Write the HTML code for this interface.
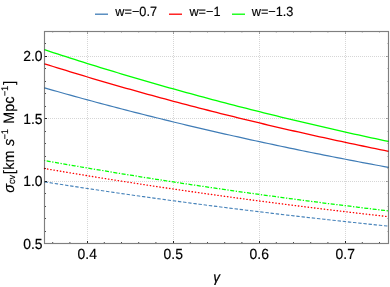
<!DOCTYPE html>
<html><head><meta charset="utf-8"><title>plot</title>
<style>html,body{margin:0;padding:0;background:#fff;}svg{display:block;will-change:transform;opacity:0.999;}text{font-family:"Liberation Sans",sans-serif;fill:#000;text-rendering:geometricPrecision;}</style></head><body>
<svg width="390" height="287" viewBox="0 0 390 287">
<rect width="390" height="287" fill="#fff"/>
<g stroke="#000" stroke-opacity="0.16" stroke-width="1" stroke-dasharray="1 1" fill="none" shape-rendering="crispEdges"><line x1="87.5" y1="31" x2="87.5" y2="243"/><line x1="173.5" y1="31" x2="173.5" y2="243"/><line x1="259.5" y1="31" x2="259.5" y2="243"/><line x1="345.5" y1="31" x2="345.5" y2="243"/><line x1="44" y1="181.5" x2="388" y2="181.5"/><line x1="44" y1="118.5" x2="388" y2="118.5"/><line x1="44" y1="56.5" x2="388" y2="56.5"/></g>
<clipPath id="c"><rect x="43.50" y="31.50" width="346.00" height="212.00"/></clipPath>
<g fill="none" stroke-width="1.3" clip-path="url(#c)">
<path d="M44.50 87.87 L48.80 89.10 L53.10 90.32 L57.40 91.54 L61.70 92.75 L66.00 93.96 L70.30 95.16 L74.60 96.35 L78.90 97.53 L83.20 98.71 L87.50 99.88 L91.80 101.05 L96.10 102.20 L100.40 103.35 L104.70 104.50 L109.00 105.64 L113.30 106.77 L117.60 107.89 L121.90 109.01 L126.20 110.13 L130.50 111.23 L134.80 112.33 L139.10 113.43 L143.40 114.51 L147.70 115.60 L152.00 116.67 L156.30 117.74 L160.60 118.80 L164.90 119.86 L169.20 120.91 L173.50 121.96 L177.80 123.00 L182.10 124.03 L186.40 125.06 L190.70 126.08 L195.00 127.10 L199.30 128.11 L203.60 129.11 L207.90 130.11 L212.20 131.11 L216.50 132.09 L220.80 133.08 L225.10 134.05 L229.40 135.02 L233.70 135.99 L238.00 136.95 L242.30 137.90 L246.60 138.85 L250.90 139.80 L255.20 140.74 L259.50 141.67 L263.80 142.60 L268.10 143.52 L272.40 144.44 L276.70 145.35 L281.00 146.26 L285.30 147.16 L289.60 148.06 L293.90 148.95 L298.20 149.84 L302.50 150.72 L306.80 151.60 L311.10 152.47 L315.40 153.33 L319.70 154.20 L324.00 155.05 L328.30 155.91 L332.60 156.75 L336.90 157.60 L341.20 158.44 L345.50 159.27 L349.80 160.10 L354.10 160.92 L358.40 161.74 L362.70 162.56 L367.00 163.37 L371.30 164.17 L375.60 164.97 L379.90 165.77 L384.20 166.56 L388.50 167.35" stroke="#3f7cb6" stroke-width="1.18"/>
<path d="M44.50 63.80 L48.80 65.15 L53.10 66.50 L57.40 67.84 L61.70 69.17 L66.00 70.49 L70.30 71.81 L74.60 73.12 L78.90 74.42 L83.20 75.71 L87.50 77.00 L91.80 78.28 L96.10 79.55 L100.40 80.82 L104.70 82.07 L109.00 83.33 L113.30 84.57 L117.60 85.81 L121.90 87.04 L126.20 88.26 L130.50 89.48 L134.80 90.69 L139.10 91.89 L143.40 93.09 L147.70 94.28 L152.00 95.46 L156.30 96.64 L160.60 97.81 L164.90 98.97 L169.20 100.13 L173.50 101.28 L177.80 102.42 L182.10 103.56 L186.40 104.69 L190.70 105.82 L195.00 106.93 L199.30 108.05 L203.60 109.15 L207.90 110.25 L212.20 111.35 L216.50 112.43 L220.80 113.52 L225.10 114.59 L229.40 115.66 L233.70 116.72 L238.00 117.78 L242.30 118.83 L246.60 119.88 L250.90 120.92 L255.20 121.95 L259.50 122.98 L263.80 124.00 L268.10 125.02 L272.40 126.03 L276.70 127.04 L281.00 128.04 L285.30 129.03 L289.60 130.02 L293.90 131.00 L298.20 131.98 L302.50 132.95 L306.80 133.92 L311.10 134.88 L315.40 135.84 L319.70 136.79 L324.00 137.73 L328.30 138.67 L332.60 139.61 L336.90 140.54 L341.20 141.46 L345.50 142.38 L349.80 143.30 L354.10 144.20 L358.40 145.11 L362.70 146.01 L367.00 146.90 L371.30 147.79 L375.60 148.67 L379.90 149.55 L384.20 150.43 L388.50 151.30" stroke="#ff0000"/>
<path d="M44.50 49.71 L48.80 51.12 L53.10 52.53 L57.40 53.93 L61.70 55.33 L66.00 56.71 L70.30 58.09 L74.60 59.46 L78.90 60.82 L83.20 62.18 L87.50 63.52 L91.80 64.86 L96.10 66.20 L100.40 67.52 L104.70 68.84 L109.00 70.15 L113.30 71.45 L117.60 72.75 L121.90 74.04 L126.20 75.32 L130.50 76.60 L134.80 77.86 L139.10 79.12 L143.40 80.38 L147.70 81.62 L152.00 82.86 L156.30 84.10 L160.60 85.32 L164.90 86.54 L169.20 87.76 L173.50 88.96 L177.80 90.16 L182.10 91.35 L186.40 92.54 L190.70 93.72 L195.00 94.89 L199.30 96.06 L203.60 97.22 L207.90 98.37 L212.20 99.52 L216.50 100.66 L220.80 101.80 L225.10 102.92 L229.40 104.05 L233.70 105.16 L238.00 106.27 L242.30 107.38 L246.60 108.47 L250.90 109.56 L255.20 110.65 L259.50 111.73 L263.80 112.80 L268.10 113.87 L272.40 114.93 L276.70 115.99 L281.00 117.04 L285.30 118.08 L289.60 119.12 L293.90 120.15 L298.20 121.18 L302.50 122.20 L306.80 123.22 L311.10 124.23 L315.40 125.23 L319.70 126.23 L324.00 127.22 L328.30 128.21 L332.60 129.19 L336.90 130.17 L341.20 131.14 L345.50 132.11 L349.80 133.07 L354.10 134.02 L358.40 134.97 L362.70 135.92 L367.00 136.86 L371.30 137.79 L375.60 138.72 L379.90 139.65 L384.20 140.56 L388.50 141.48" stroke="#00ff00"/>
<path d="M44.50 181.85 L48.80 182.53 L53.10 183.21 L57.40 183.88 L61.70 184.56 L66.00 185.22 L70.30 185.89 L74.60 186.55 L78.90 187.21 L83.20 187.86 L87.50 188.51 L91.80 189.16 L96.10 189.80 L100.40 190.44 L104.70 191.08 L109.00 191.71 L113.30 192.34 L117.60 192.96 L121.90 193.58 L126.20 194.20 L130.50 194.82 L134.80 195.43 L139.10 196.04 L143.40 196.64 L147.70 197.25 L152.00 197.84 L156.30 198.44 L160.60 199.03 L164.90 199.62 L169.20 200.20 L173.50 200.79 L177.80 201.37 L182.10 201.94 L186.40 202.51 L190.70 203.08 L195.00 203.65 L199.30 204.21 L203.60 204.77 L207.90 205.33 L212.20 205.88 L216.50 206.43 L220.80 206.98 L225.10 207.53 L229.40 208.07 L233.70 208.61 L238.00 209.14 L242.30 209.68 L246.60 210.21 L250.90 210.73 L255.20 211.26 L259.50 211.78 L263.80 212.30 L268.10 212.81 L272.40 213.32 L276.70 213.83 L281.00 214.34 L285.30 214.85 L289.60 215.35 L293.90 215.85 L298.20 216.34 L302.50 216.83 L306.80 217.33 L311.10 217.81 L315.40 218.30 L319.70 218.78 L324.00 219.26 L328.30 219.74 L332.60 220.21 L336.90 220.68 L341.20 221.15 L345.50 221.62 L349.80 222.08 L354.10 222.55 L358.40 223.00 L362.70 223.46 L367.00 223.91 L371.30 224.37 L375.60 224.82 L379.90 225.26 L384.20 225.71 L388.50 226.15" stroke="#4783ba" stroke-dasharray="3.4 1.787" stroke-width="1.12"/>
<path d="M44.50 168.50 L48.80 169.24 L53.10 169.98 L57.40 170.71 L61.70 171.44 L66.00 172.16 L70.30 172.88 L74.60 173.59 L78.90 174.31 L83.20 175.01 L87.50 175.72 L91.80 176.42 L96.10 177.12 L100.40 177.81 L104.70 178.50 L109.00 179.18 L113.30 179.87 L117.60 180.54 L121.90 181.22 L126.20 181.89 L130.50 182.56 L134.80 183.22 L139.10 183.88 L143.40 184.54 L147.70 185.19 L152.00 185.84 L156.30 186.49 L160.60 187.13 L164.90 187.77 L169.20 188.40 L173.50 189.04 L177.80 189.66 L182.10 190.29 L186.40 190.91 L190.70 191.53 L195.00 192.15 L199.30 192.76 L203.60 193.37 L207.90 193.97 L212.20 194.57 L216.50 195.17 L220.80 195.77 L225.10 196.36 L229.40 196.95 L233.70 197.54 L238.00 198.12 L242.30 198.70 L246.60 199.28 L250.90 199.85 L255.20 200.42 L259.50 200.99 L263.80 201.55 L268.10 202.11 L272.40 202.67 L276.70 203.23 L281.00 203.78 L285.30 204.33 L289.60 204.88 L293.90 205.42 L298.20 205.96 L302.50 206.50 L306.80 207.03 L311.10 207.57 L315.40 208.09 L319.70 208.62 L324.00 209.14 L328.30 209.66 L332.60 210.18 L336.90 210.70 L341.20 211.21 L345.50 211.72 L349.80 212.23 L354.10 212.73 L358.40 213.23 L362.70 213.73 L367.00 214.23 L371.30 214.72 L375.60 215.21 L379.90 215.70 L384.20 216.18 L388.50 216.67" stroke="#ff0000" stroke-dasharray="0.4 2.8515" stroke-dashoffset="0.2" stroke-linecap="round" stroke-width="1.35"/>
<path d="M44.50 160.50 L48.80 161.27 L53.10 162.04 L57.40 162.80 L61.70 163.56 L66.00 164.31 L70.30 165.06 L74.60 165.81 L78.90 166.56 L83.20 167.30 L87.50 168.03 L91.80 168.76 L96.10 169.49 L100.40 170.21 L104.70 170.93 L109.00 171.65 L113.30 172.36 L117.60 173.07 L121.90 173.78 L126.20 174.48 L130.50 175.18 L134.80 175.87 L139.10 176.56 L143.40 177.25 L147.70 177.93 L152.00 178.61 L156.30 179.28 L160.60 179.95 L164.90 180.62 L169.20 181.29 L173.50 181.95 L177.80 182.61 L182.10 183.26 L186.40 183.91 L190.70 184.56 L195.00 185.20 L199.30 185.84 L203.60 186.48 L207.90 187.11 L212.20 187.75 L216.50 188.37 L220.80 189.00 L225.10 189.62 L229.40 190.23 L233.70 190.85 L238.00 191.46 L242.30 192.07 L246.60 192.67 L250.90 193.27 L255.20 193.87 L259.50 194.46 L263.80 195.05 L268.10 195.64 L272.40 196.23 L276.70 196.81 L281.00 197.39 L285.30 197.96 L289.60 198.54 L293.90 199.11 L298.20 199.67 L302.50 200.24 L306.80 200.80 L311.10 201.35 L315.40 201.91 L319.70 202.46 L324.00 203.01 L328.30 203.56 L332.60 204.10 L336.90 204.64 L341.20 205.18 L345.50 205.71 L349.80 206.24 L354.10 206.77 L358.40 207.30 L362.70 207.82 L367.00 208.34 L371.30 208.86 L375.60 209.37 L379.90 209.89 L384.20 210.40 L388.50 210.90" stroke="#00ff00" stroke-dasharray="1.3 1.55 4.05 1.55" stroke-dashoffset="0.65" stroke-width="1.25"/>
</g>
<path d="M87.50 243 v-2 M173.50 243 v-2 M259.50 243 v-2 M345.50 243 v-2 M45 181.5 h2 M45 118.5 h2 M45 56.5 h2" stroke="#000" stroke-opacity="0.85" stroke-width="1" fill="none"/>
<path d="M52.70 243 v-1 M69.90 243 v-1 M104.30 243 v-1 M121.50 243 v-1 M138.70 243 v-1 M155.90 243 v-1 M190.30 243 v-1 M207.50 243 v-1 M224.70 243 v-1 M241.90 243 v-1 M276.30 243 v-1 M293.50 243 v-1 M310.70 243 v-1 M327.90 243 v-1 M362.30 243 v-1 M379.50 243 v-1 M45 231.5 h1 M45 218.5 h1 M45 206.5 h1 M45 193.5 h1 M45 168.5 h1 M45 156.5 h1 M45 143.5 h1 M45 131.5 h1 M45 106.5 h1 M45 93.5 h1 M45 81.5 h1 M45 68.5 h1 M45 43.5 h1" stroke="#000" stroke-opacity="0.68" stroke-width="1" fill="none"/>
<path d="M87.50 32 v2 M173.50 32 v2 M259.50 32 v2 M345.50 32 v2 M388 181.5 h-2 M388 118.5 h-2 M388 56.5 h-2" stroke="#000" stroke-opacity="0.3" stroke-width="1" fill="none"/>
<path d="M52.70 32 v1 M69.90 32 v1 M104.30 32 v1 M121.50 32 v1 M138.70 32 v1 M155.90 32 v1 M190.30 32 v1 M207.50 32 v1 M224.70 32 v1 M241.90 32 v1 M276.30 32 v1 M293.50 32 v1 M310.70 32 v1 M327.90 32 v1 M362.30 32 v1 M379.50 32 v1 M388 231.5 h-1 M388 218.5 h-1 M388 206.5 h-1 M388 193.5 h-1 M388 168.5 h-1 M388 156.5 h-1 M388 143.5 h-1 M388 131.5 h-1 M388 106.5 h-1 M388 93.5 h-1 M388 81.5 h-1 M388 68.5 h-1 M388 43.5 h-1" stroke="#000" stroke-opacity="0.2" stroke-width="1" fill="none"/>
<rect x="44.50" y="31.50" width="344.00" height="212.00" fill="none" stroke="#000" stroke-opacity="0.5" stroke-width="1.15"/>
<text transform="translate(87.20 259.4) scale(0.953 1)" font-size="14.6" text-anchor="middle" stroke="#000" stroke-width="0.18">0.4</text>
<text transform="translate(173.20 259.4) scale(0.953 1)" font-size="14.6" text-anchor="middle" stroke="#000" stroke-width="0.18">0.5</text>
<text transform="translate(259.20 259.4) scale(0.953 1)" font-size="14.6" text-anchor="middle" stroke="#000" stroke-width="0.18">0.6</text>
<text transform="translate(345.20 259.4) scale(0.953 1)" font-size="14.6" text-anchor="middle" stroke="#000" stroke-width="0.18">0.7</text>
<text transform="translate(42.6 248.70) scale(0.953 1)" font-size="14.6" text-anchor="end" stroke="#000" stroke-width="0.18">0.5</text>
<text transform="translate(42.6 185.90) scale(0.953 1)" font-size="14.6" text-anchor="end" stroke="#000" stroke-width="0.18">1.0</text>
<text transform="translate(42.6 124.10) scale(0.953 1)" font-size="14.6" text-anchor="end" stroke="#000" stroke-width="0.18">1.5</text>
<text transform="translate(42.6 61.20) scale(0.953 1)" font-size="14.6" text-anchor="end" stroke="#000" stroke-width="0.18">2.0</text>
<text transform="translate(216.7 281.7) scale(0.93 1)" font-size="14.4" font-style="italic" text-anchor="middle" stroke="#000" stroke-width="0.25">γ</text>
<text transform="translate(13.85 192.80) rotate(-90) scale(0.953 1)" font-size="15.1" stroke="#000" stroke-width="0.15" font-style="italic">σ</text>
<text transform="translate(15.15 184.00) rotate(-90) scale(0.953 1)" font-size="9.6" stroke="#000" stroke-width="0.15">cv</text>
<text transform="translate(13.85 174.30) rotate(-90) scale(0.953 1)" font-size="15.1" stroke="#000" stroke-width="0.15">[</text>
<text transform="translate(13.85 169.70) rotate(-90) scale(0.953 1)" font-size="15.1" stroke="#000" stroke-width="0.15">km</text>
<text transform="translate(13.85 146.10) rotate(-90) scale(0.953 1)" font-size="15.1" stroke="#000" stroke-width="0.15" font-style="italic">s</text>
<text transform="translate(7.80 139.50) rotate(-90) scale(0.953 1)" font-size="9.6" stroke="#000" stroke-width="0.15">−1</text>
<text transform="translate(13.85 123.80) rotate(-90) scale(0.953 1)" font-size="15.1" stroke="#000" stroke-width="0.15">Mpc</text>
<text transform="translate(7.80 96.30) rotate(-90) scale(0.953 1)" font-size="9.6" stroke="#000" stroke-width="0.15">−1</text>
<text transform="translate(13.85 84.80) rotate(-90) scale(0.953 1)" font-size="15.1" stroke="#000" stroke-width="0.15">]</text>
<line x1="95" y1="14.2" x2="108" y2="14.2" stroke="#3f7cb6" stroke-width="1.3"/>
<text transform="translate(115.3 16.35) scale(0.953 1)" font-size="13.35" stroke="#000" stroke-width="0.15">w=−0.7</text>
<line x1="169" y1="14.2" x2="182" y2="14.2" stroke="#ff0000" stroke-width="1.3"/>
<text transform="translate(189.4 16.35) scale(0.953 1)" font-size="13.35" stroke="#000" stroke-width="0.15">w=−1</text>
<line x1="232" y1="14.2" x2="245" y2="14.2" stroke="#00ff00" stroke-width="1.3"/>
<text transform="translate(251.7 16.35) scale(0.953 1)" font-size="13.35" stroke="#000" stroke-width="0.15">w=−1.3</text>
</svg></body></html>
